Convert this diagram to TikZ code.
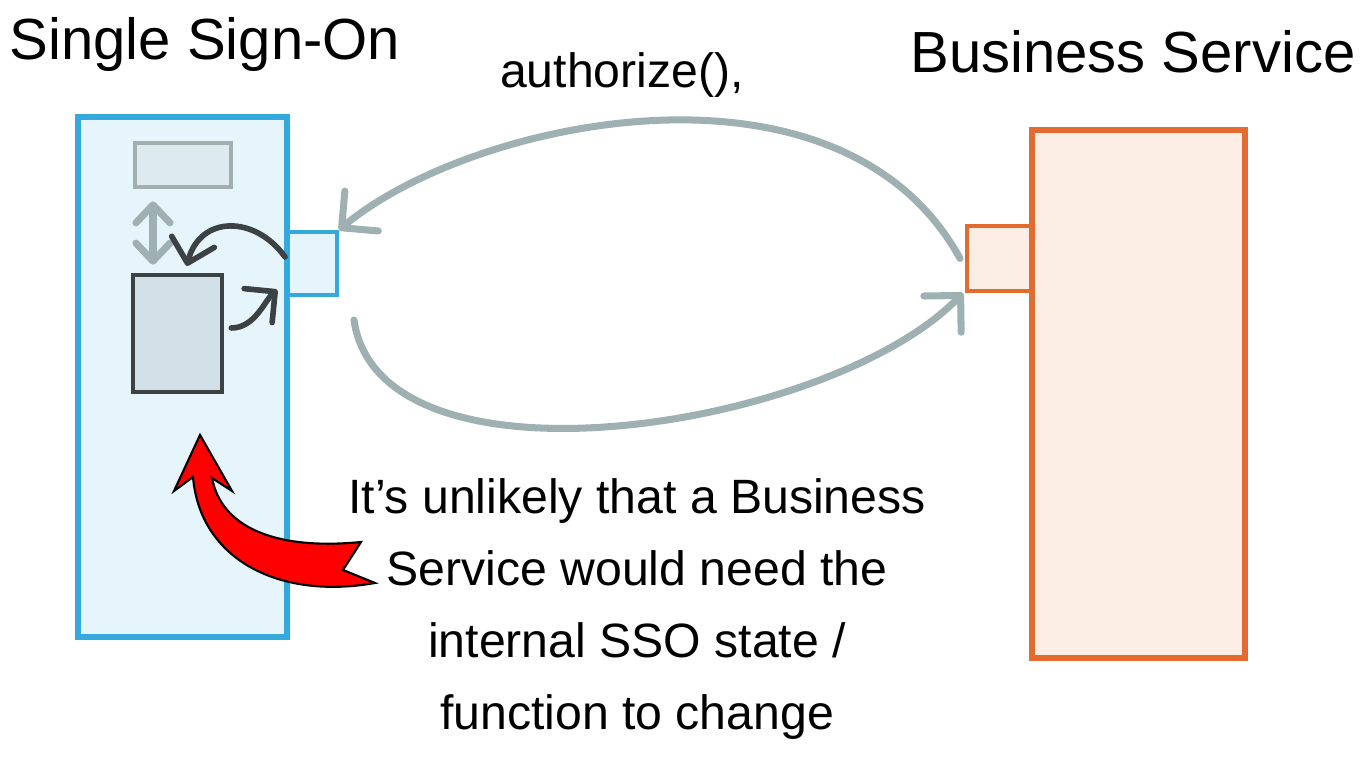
\documentclass[tikz,border=0pt]{standalone}
\usepackage{fontspec}
\setmainfont{Liberation Sans}
\usetikzlibrary{arrows.meta, calc, positioning}

\definecolor{ssoblue}{HTML}{33A9DE}
\definecolor{ssofill}{HTML}{E6F4FB}
\definecolor{bsorange}{HTML}{E56A2D}
\definecolor{bsfill}{HTML}{FCEEE5}
\definecolor{callgray}{HTML}{9EB0B1}
\definecolor{stategray}{HTML}{A3AEAE}
\definecolor{statefill}{HTML}{DDEBF1}
\definecolor{funcdark}{HTML}{3C4144}
\definecolor{funcfill}{HTML}{D1DFE7}

\begin{document}
\begin{tikzpicture}[x=0.01cm, y=-0.01cm,
        box/.style={draw, line width=1.7pt, inner sep=0pt},
        port/.style={draw, line width=1.1pt, inner sep=0pt},
        part/.style={draw, line width=1.3pt, inner sep=0pt},
        title/.style={font=\fontsize{16.5}{20}\selectfont},
        note/.style={font=\fontsize{13.7}{20.5}\selectfont, align=center},
        call/.style={draw=callgray, line width=2pt, line cap=round,
            -{Straight Barb[round, length=2.6mm, width=5.2mm]}},
        flow/.style={draw=funcdark, line width=1.6pt, line cap=round,
            -{Straight Barb[round, length=2.2mm, width=4.4mm]}}]
        \useasboundingbox (0,0) rectangle (1369,764);

        % ports first, the boxes overlap them
        \node[port, draw=ssoblue, fill=ssofill, minimum width=0.5cm, minimum height=0.63cm] (ssoport) at (312,263.5) {};
        \node[port, draw=bsorange, fill=bsfill, minimum width=0.65cm, minimum height=0.65cm] (bsport) at (999.5,258.5) {};
        \node[box, draw=ssoblue, fill=ssofill, minimum width=2.09cm, minimum height=5.2cm] (sso) at (182.5,377) {};
        \node[box, draw=bsorange, fill=bsfill, minimum width=2.13cm, minimum height=5.28cm] (bs) at (1138.5,394) {};
        \node[part, draw=stategray, fill=statefill, minimum width=0.96cm, minimum height=0.44cm] (state) at (183,165) {};
        \node[part, draw=funcdark, fill=funcfill, minimum width=0.89cm, minimum height=1.17cm] (func) at (177.5,333.5) {};

        \node[title] (ssotitle) at (205,45) {Single Sign-On};
        \node[title] (bstitle) at (1133,52) {Business Service};
        \node[note] (authlabel) at (622,75) {authorize(),};

        \draw[call] ([xshift=-0.05cm]bsport.west) .. controls (840,40) and (470,120) .. (ssoport.north east);
        \draw[call] ([shift={(0.15cm,-0.23cm)}]ssoport.south east) .. controls (380,500) and (830,430) .. ([xshift=-0.02cm]bsport.south west);

        \draw[draw=callgray, line width=2pt, line cap=round,
            {Straight Barb[round, length=1.8mm, width=3.4mm]}-{Straight Barb[round, length=1.8mm, width=3.4mm]}]
            ([xshift=-0.3cm, yshift=-0.12cm]state.south) -- ([xshift=-0.3cm, yshift=0.08cm]state.south |- func.north);

        \draw[flow, shorten >=0.07cm] ([yshift=0.065cm]ssoport.west) .. controls (255,215) and (200,215) .. ([xshift=0.075cm]func.north);
        \draw[flow, shorten <=0.07cm, shorten >=0.1cm] ([yshift=0.055cm]func.east) .. controls (255,328) and (265,300) .. ([yshift=-0.2cm]ssoport.west);

        % fat red arrow
        \filldraw[fill=red, draw=black, line width=0.6pt]
            (200,435) -- (232,491) -- (212,478)
            .. controls (222,530) and (280,550) .. (361,542)
            -- (343,570) -- (375,583)
            .. controls (280,600) and (200,560) .. (193,477)
            -- (174,491) -- cycle;

        \node[note] (remark) at (637,609) {It’s unlikely that a Business\\ Service would need the\\ internal SSO state /\\ function to change};
    \end{tikzpicture}
\end{document}
